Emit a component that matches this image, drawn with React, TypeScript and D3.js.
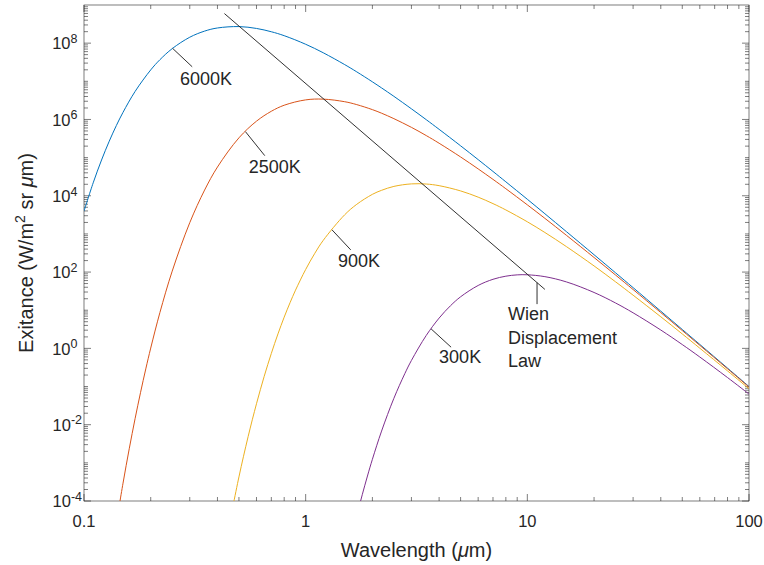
import React from 'react';
import * as d3 from 'd3';

// Spectral exitance curves (W/m^2 sr µm) for four blackbody temperatures
const wavelength6000 = [0.1, 0.11, 0.12, 0.13, 0.14, 0.15, 0.17, 0.2, 0.22, 0.25, 0.3, 0.35, 0.4, 0.5, 0.6, 0.7, 0.8, 1, 1.2, 1.5, 1.7, 2, 2.2, 2.5, 3, 3.5, 4, 5, 6, 7, 8, 10, 12, 15, 20, 25, 30, 40, 50, 60, 80, 100];
const exitance6000 = [3.96e3, 2.18e4, 8.66e4, 2.7e5, 6.96e5, 1.54e6, 5.42e6, 1.99e7, 3.68e7, 7.19e7, 1.43e8, 2.07e8, 2.5e8, 2.72e8, 2.43e8, 1.99e8, 1.57e8, 9.35e7, 5.6e7, 2.74e7, 1.77e7, 9.69e6, 6.71e6, 4.04e6, 1.9e6, 9.86e5, 5.51e5, 2.04e5, 8.86e4, 4.34e4, 2.32e4, 8.09e3, 3.38e3, 1.15e3, 285, 95.7, 39.1, 9.45, 3.13, 1.27, 0.304, 0.1];

const wavelength2500 = [0.14, 0.15, 0.16, 0.17, 0.18, 0.19, 0.2, 0.22, 0.25, 0.3, 0.35, 0.4, 0.5, 0.6, 0.7, 0.8, 1, 1.2, 1.5, 1.7, 2, 2.2, 2.5, 3, 3.5, 4, 5, 6, 7, 8, 10, 12, 15, 20, 25, 30, 40, 50, 60, 80, 100];
const exitance2500 = [2.68e-5, 2.94e-4, 2.34e-3, 1.44e-2, 7.07e-2, 0.29, 1.02, 8.69, 106, 1.97e3, 1.41e4, 5.66e4, 3.3e5, 9.02e5, 1.64e6, 2.36e6, 3.26e6, 3.41e6, 2.92e6, 2.45e6, 1.81e6, 1.46e6, 1.05e6, 6.21e5, 3.78e5, 2.38e5, 1.04e5, 5.06e4, 2.69e4, 1.53e4, 5.78e3, 2.56e3, 922, 241, 83.7, 34.9, 8.69, 2.93, 1.2, 0.292, 0.0971];

const wavelength900 = [0.45, 0.5, 0.55, 0.6, 0.65, 0.7, 0.75, 0.8, 0.85, 0.9, 1, 1.1, 1.2, 1.5, 1.7, 2, 2.2, 2.5, 3, 3.5, 4, 5, 6, 7, 8, 10, 12, 15, 20, 25, 30, 40, 50, 60, 80, 100];
const exitance900 = [2.08e-5, 4.28e-4, 4.86e-3, 3.54e-2, 0.185, 0.738, 2.4, 6.58, 15.7, 33.6, 117, 311, 677, 3.18e3, 5.97e3, 1.09e4, 1.39e4, 1.76e4, 2.05e4, 2.03e4, 1.84e4, 1.34e4, 9.2e3, 6.23e3, 4.25e3, 2.08e3, 1.09e3, 466, 145, 55.6, 24.8, 6.73, 2.39, 1.01, 0.257, 0.0876];

const wavelength300 = [1.6, 1.7, 1.8, 1.9, 2, 2.2, 2.5, 2.8, 3, 3.5, 4, 4.5, 5, 6, 7, 8, 9, 10, 12, 15, 20, 25, 30, 40, 50, 60, 80, 100];
const exitance300 = [9.41e-6, 4.05e-5, 1.46e-4, 4.52e-4, 1.24e-3, 6.8e-3, 4.91e-2, 0.217, 0.483, 2.19, 6.23, 13.1, 22.5, 44.6, 64.7, 78.1, 84.5, 84.9, 75.9, 55.3, 29.2, 15.5, 8.56, 3.03, 1.26, 0.594, 0.172, 0.0636];

// Wien displacement law: locus of the peaks
const wienWavelength = [0.43, 12];
const wienExitance = [5.96e8, 35.2];

const temperatureLabels = ['6000K', '2500K', '900K', '300K'];
const xTickValues = [0.1, 1, 10, 100];
const xTickLabels = ['0.1', '1', '10', '100'];
const yTickExponents = [-4, -2, 0, 2, 4, 6, 8];

const seriesColors = ['#0072BD', '#D95319', '#EDB120', '#7E2F8E'];

const series = [
  { wavelengths: wavelength6000, values: exitance6000 },
  { wavelengths: wavelength2500, values: exitance2500 },
  { wavelengths: wavelength900, values: exitance900 },
  { wavelengths: wavelength300, values: exitance300 },
];

// where each temperature label's leader touches its curve, plus pixel offsets
const curveLabelLayout = [
  { at: 0.251, lx: 19.6, ly: 18.4, tx: 7.3, ty: 36.2 },
  { at: 0.535, lx: 19.3, ly: 24, tx: 3.3, ty: 41.8 },
  { at: 1.315, lx: 18.7, ly: 20, tx: 6, ty: 37.2 },
  { at: 3.68, lx: 20, ly: 18.3, tx: 8, ty: 33.8 },
];
const wienLabelAt = 11.06;
const wienLabelLines = ['Wien', 'Displacement', 'Law'];

const W = 764;
const H = 565;
const left = 84;
const right = 749;
const top = 5;
const bottom = 501;

const FONT = '"Liberation Sans", Arial, Helvetica, sans-serif';
const TEXT = '#262626';
const AXIS = '#262626';

// log-log interpolation along a curve
function valueAt(ws: number[], vs: number[], l: number): number {
  for (let i = 0; i < ws.length - 1; i++) {
    if (l >= ws[i] && l <= ws[i + 1]) {
      const t = (Math.log(l) - Math.log(ws[i])) / (Math.log(ws[i + 1]) - Math.log(ws[i]));
      return Math.exp(Math.log(vs[i]) + t * (Math.log(vs[i + 1]) - Math.log(vs[i])));
    }
  }
  return vs[vs.length - 1];
}

export default function App() {
  const x = d3.scaleLog().domain([0.1, 100]).range([left, right]);
  const y = d3.scaleLog().domain([1e-4, 1e9]).range([bottom, top]);

  const line = d3
    .line<[number, number]>()
    .x((d) => x(d[0]))
    .y((d) => y(d[1]))
    .curve(d3.curveCatmullRom.alpha(0.5));

  const xMinor: number[] = [];
  for (let e = -1; e <= 1; e++) for (let m = 2; m <= 9; m++) xMinor.push(m * Math.pow(10, e));
  const yMinor: number[] = [];
  for (let e = -4; e <= 8; e++) {
    for (let m = 1; m <= 9; m++) {
      if (m === 1 && e % 2 === 0) continue;
      yMinor.push(m * Math.pow(10, e));
    }
  }

  const major = 7;
  const minor = 4;

  const wienX = x(wienLabelAt);
  const wienY = y(valueAt(wienWavelength, wienExitance, wienLabelAt));

  return (
    <svg
      width={W}
      height={H}
      viewBox={`0 0 ${W} ${H}`}
      style={{ position: 'absolute', left: 0, top: 0, background: '#fff' }}
      fontFamily={FONT}
    >
      <defs>
        <clipPath id="plot-area">
          <rect x={left} y={top} width={right - left} height={bottom - top} />
        </clipPath>
      </defs>
      <rect x={0} y={0} width={W} height={H} fill="#fff" />

      {/* ticks, drawn inward on all four sides */}
      <g stroke={AXIS} strokeWidth={0.6}>
        {xTickValues.map((v) => (
          <g key={'xt' + v}>
            <line x1={x(v)} x2={x(v)} y1={bottom} y2={bottom - major} />
            <line x1={x(v)} x2={x(v)} y1={top} y2={top + major} />
          </g>
        ))}
        {xMinor.map((v) => (
          <g key={'xm' + v}>
            <line x1={x(v)} x2={x(v)} y1={bottom} y2={bottom - minor} />
            <line x1={x(v)} x2={x(v)} y1={top} y2={top + minor} />
          </g>
        ))}
        {yTickExponents.map((e) => {
          const yy = y(Math.pow(10, e));
          return (
            <g key={'yt' + e}>
              <line x1={left} x2={left + major} y1={yy} y2={yy} />
              <line x1={right} x2={right - major} y1={yy} y2={yy} />
            </g>
          );
        })}
        {yMinor.map((v, i) => {
          const yy = y(v);
          return (
            <g key={'ym' + i}>
              <line x1={left} x2={left + minor} y1={yy} y2={yy} />
              <line x1={right} x2={right - minor} y1={yy} y2={yy} />
            </g>
          );
        })}
        <rect x={left} y={top} width={right - left} height={bottom - top} fill="none" />
      </g>

      {/* curves */}
      <g clipPath="url(#plot-area)" fill="none" strokeWidth={1}>
        {series.map((s, i) => (
          <path
            key={temperatureLabels[i]}
            d={line(s.wavelengths.map((w, j) => [w, s.values[j]] as [number, number])) || ''}
            stroke={seriesColors[i]}
          />
        ))}
        <path
          d={d3.line<[number, number]>().x((d) => x(d[0])).y((d) => y(d[1]))(
            wienWavelength.map((w, j) => [w, wienExitance[j]] as [number, number])
          ) || ''}
          stroke="#1a1a1a"
          strokeWidth={0.9}
        />
      </g>

      {/* temperature labels with leaders */}
      {curveLabelLayout.map((lab, i) => {
        const s = series[i];
        const ax = x(lab.at);
        const ay = y(valueAt(s.wavelengths, s.values, lab.at));
        return (
          <g key={'lab' + i}>
            <line x1={ax} y1={ay} x2={ax + lab.lx} y2={ay + lab.ly} stroke="#1a1a1a" strokeWidth={0.9} />
            <text x={ax + lab.tx} y={ay + lab.ty} fontSize={18} fill={TEXT}>
              {temperatureLabels[i]}
            </text>
          </g>
        );
      })}

      {/* Wien label */}
      <line x1={wienX} y1={wienY} x2={wienX} y2={wienY + 21.5} stroke="#1a1a1a" strokeWidth={0.9} />
      {wienLabelLines.map((t, i) => (
        <text key={t} x={wienX - 29} y={wienY + 37.5 + i * 23.6} fontSize={18} fill={TEXT}>
          {t}
        </text>
      ))}

      {/* x tick labels */}
      {xTickValues.map((v, i) => (
        <text key={'xl' + v} x={x(v)} y={526.5} fontSize={16.5} textAnchor="middle" fill={TEXT}>
          {xTickLabels[i]}
        </text>
      ))}

      {/* y tick labels */}
      {yTickExponents.map((e) => (
        <text
          key={'yl' + e}
          x={e < 0 ? 82 : 77.5}
          y={y(Math.pow(10, e)) + 6.3}
          fontSize={16.5}
          textAnchor="end"
          fill={TEXT}
        >
          10
          <tspan dy={-6.5} fontSize={12.5}>
            {String(e)}
          </tspan>
        </text>
      ))}

      {/* axis titles */}
      <text x={(left + right) / 2} y={557} fontSize={20} textAnchor="middle" fill={TEXT}>
        Wavelength (<tspan fontStyle="italic">μ</tspan>m)
      </text>
      <text
        transform={`translate(33,${(top + bottom) / 2}) rotate(-90)`}
        fontSize={20}
        textAnchor="middle"
        fill={TEXT}
      >
        Exitance (W/m<tspan dy={-8} fontSize={14}>2</tspan>
        <tspan dy={8}> sr </tspan>
        <tspan fontStyle="italic">μ</tspan>m)
      </text>
    </svg>
  );
}
